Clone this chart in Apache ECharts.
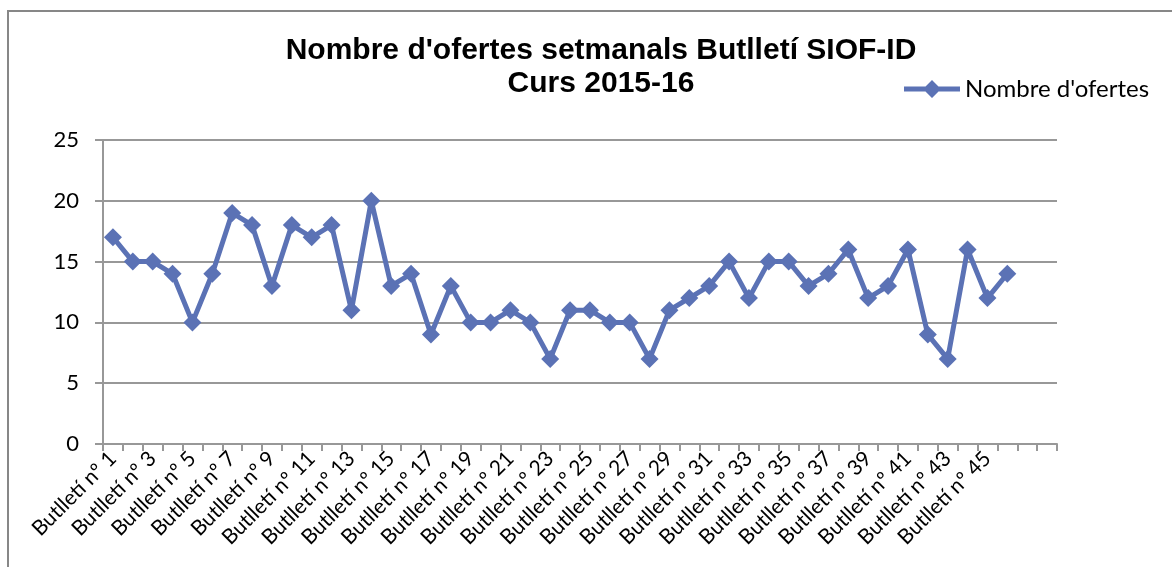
<!DOCTYPE html>
<html><head><meta charset="utf-8">
<script src="https://cdn.jsdelivr.net/npm/echarts@6/dist/echarts.min.js"></script>
<style>html,body{margin:0;padding:0;background:#fff}#c{width:1172px;height:567px}</style>
</head><body><div id="c"></div>
<script>
const titleLines = ["Nombre d'ofertes setmanals Butlletí SIOF-ID", "Curs 2015-16"];
const seriesName = "Nombre d'ofertes";
const categories = [
  "Butlletí nº 1","Butlletí nº 2","Butlletí nº 3","Butlletí nº 4","Butlletí nº 5","Butlletí nº 6",
  "Butlletí nº 7","Butlletí nº 8","Butlletí nº 9","Butlletí nº 10","Butlletí nº 11","Butlletí nº 12",
  "Butlletí nº 13","Butlletí nº 14","Butlletí nº 15","Butlletí nº 16","Butlletí nº 17","Butlletí nº 18",
  "Butlletí nº 19","Butlletí nº 20","Butlletí nº 21","Butlletí nº 22","Butlletí nº 23","Butlletí nº 24",
  "Butlletí nº 25","Butlletí nº 26","Butlletí nº 27","Butlletí nº 28","Butlletí nº 29","Butlletí nº 30",
  "Butlletí nº 31","Butlletí nº 32","Butlletí nº 33","Butlletí nº 34","Butlletí nº 35","Butlletí nº 36",
  "Butlletí nº 37","Butlletí nº 38","Butlletí nº 39","Butlletí nº 40","Butlletí nº 41","Butlletí nº 42",
  "Butlletí nº 43","Butlletí nº 44","Butlletí nº 45","Butlletí nº 46","",""
];
const offers = [17,15,15,14,10,14,19,18,13,18,17,18,11,20,13,14,9,13,10,10,11,10,7,11,11,10,10,7,11,12,13,15,12,15,15,13,14,16,12,13,16,9,7,16,12,14];
const yMin = 0, yMax = 25, yStep = 5;

const lineColor = '#5b72b5';
const gridColor = '#989898';
const legendIcon = 'path://M0,6.5 L21.5,6.5 L28,0 L34.5,6.5 L56,6.5 L56,11.5 L34.5,11.5 L28,18 L21.5,11.5 L0,11.5 Z';
const chart = echarts.init(document.getElementById('c'));
chart.setOption({
  animation: false,
  backgroundColor: '#fff',
  graphic: [
    { type: 'rect', shape: { x: 8, y: 11, width: 1400, height: 800 }, style: { fill: 'none', stroke: '#878787', lineWidth: 2 }, silent: true },
    { type: 'text', x: 601, y: 34, style: { text: titleLines.join('\n'), textAlign: 'center', fill: '#000',
      font: 'bold 30px "Liberation Sans", Arial, sans-serif', lineHeight: 33 } }
  ],
  legend: {
    data: [{ name: seriesName, icon: legendIcon }], left: 904, top: 77, padding: 0,
    itemWidth: 56, itemHeight: 18, itemGap: 5,
    textStyle: { fontFamily: 'Lato', fontSize: 24, color: '#000' }
  },
  grid: { left: 103, right: 115, top: 140, bottom: 123, containLabel: false },
  xAxis: {
    type: 'category', data: categories, boundaryGap: true,
    axisLine: { lineStyle: { color: gridColor, width: 2 } },
    axisTick: { show: true, interval: 0, length: 7, lineStyle: { color: gridColor, width: 2 } },
    axisLabel: { interval: 1, rotate: 45, margin: 11, fontFamily: 'Lato', fontSize: 21, color: '#000' },
    splitLine: { show: false }
  },
  yAxis: {
    type: 'value', min: yMin, max: yMax, interval: yStep,
    axisLine: { show: true, lineStyle: { color: gridColor, width: 2 } },
    axisTick: { show: true, length: 8, lineStyle: { color: gridColor, width: 2 } },
    axisLabel: { margin: 24, fontFamily: 'Lato', fontSize: 22, color: '#000' },
    splitLine: { lineStyle: { color: gridColor, width: 2 } }
  },
  series: [{
    name: seriesName, type: 'line', data: offers,
    symbol: 'diamond', symbolSize: 18, showAllSymbol: true,
    lineStyle: { color: lineColor, width: 5 },
    itemStyle: { color: lineColor },
    z: 3
  }]
});
</script></body></html>
